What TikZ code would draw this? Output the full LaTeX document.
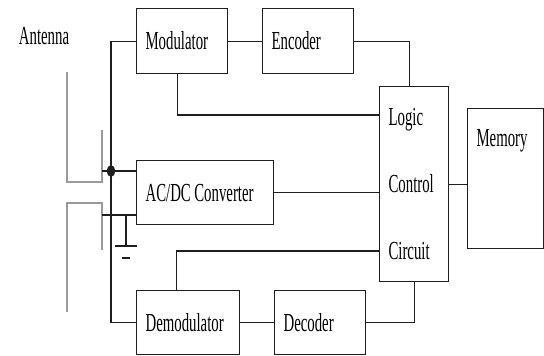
\documentclass[tikz,border=0pt]{standalone}
\usepackage{fontspec}
\setmainfont{Liberation Serif}[FakeStretch=0.57]
\usepackage{xcolor}
\usepackage{tikz}
\usetikzlibrary{positioning, shapes.geometric}
\definecolor{wire}{HTML}{1E1E1E}
\definecolor{antgray}{HTML}{9A9A9A}

\begin{document}
\begin{tikzpicture}[x=1pt, y=-1pt, line width=1.1pt, draw=wire,
    blk/.style={draw=wire, anchor=north west, inner xsep=9pt, inner ysep=0pt,
      align=left, font=\fontsize{26}{26}\selectfont},
    ant/.style={draw=antgray, line width=1.5pt},
    jdot/.style={ellipse, fill=wire, inner sep=0pt, minimum width=8pt, minimum height=12pt}]
  \useasboundingbox (0,0) rectangle (544,356);

  % blocks
  \node[blk, text width=73pt, minimum height=65pt] (mod) at (136,8) {Modulator};
  \node[blk, text width=73pt, minimum height=65pt] (enc) at (262,8) {Encoder};
  \node[blk, text width=119pt, minimum height=64pt] (acdc) at (136,160) {AC/DC\hspace{3.5pt}Converter};
  \node[blk, text width=85pt, minimum height=64pt] (demod) at (136,290) {Demodulator};
  \node[blk, text width=73pt, minimum height=64pt] (dec) at (274,290) {Decoder};
  \node[blk, text width=51pt, minimum height=195pt, font=\fontsize{26}{67}\selectfont]
    (logic) at (379,86) {Logic\\Control\\Circuit};
  \node[blk, text width=58pt, text height=38pt, text depth=102pt] (mem) at (467,108) {Memory};
  \node[font=\fontsize{26}{26}\selectfont] (antlbl) at (44,36) {Antenna};

  % antenna
  \coordinate (ant1) at (102,171);
  \coordinate (ant2) at (102,215);
  \coordinate (gnd) at (126,215);
  \draw[ant] (67,72) -- (67,182) -- (102,182) -- (102,130);
  \draw[ant] (67,312) -- (67,203) -- (102,203) -- (102,250);
  \node[jdot] (dot) at (111,171) {};
  \draw (ant1) -- (ant1 -| acdc.west);
  \draw (ant2) -- (ant2 -| acdc.west);
  \draw (gnd) -- ++(0,31) ++(-11,0) -- ++(22,0) ++(-15,12) -- ++(8,0);

  % connectors
  \draw (mod.west) -| (dot.center) |- (demod.west);
  \draw (mod.east) -- (enc.west);
  \draw (enc.east) -| ([xshift=-5pt]logic.north);
  \draw ([xshift=-5pt]mod.south) |- (logic.west |- 0,115);
  \draw (acdc.east) -- (acdc.east -| logic.west);
  \draw (logic.east) -- (logic.east -| mem.west);
  \draw (logic.west |- 0,251) -| ([xshift=-11.5pt]demod.north);
  \draw (demod.east) -- (dec.west);
  \draw (dec.east) -| (logic.south);
\end{tikzpicture}
\end{document}
